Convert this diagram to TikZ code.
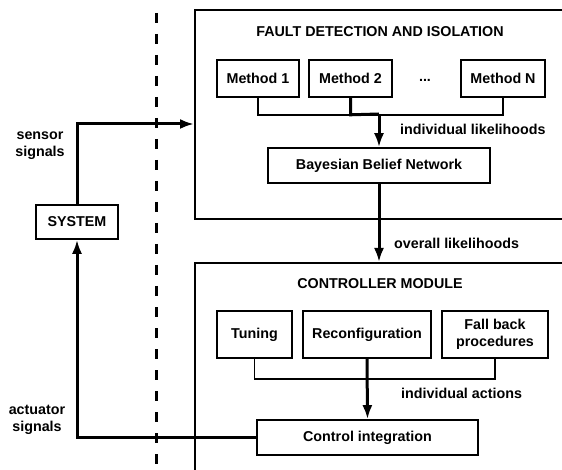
\documentclass[tikz,border=0pt]{standalone}
\usepackage{fontspec}
\setmainfont{Liberation Sans}
\usetikzlibrary{arrows.meta}
\begin{document}
\begin{tikzpicture}[x=1pt,y=-1pt,>={Latex[length=14pt,width=10pt]},
	box/.style={draw,line width=1.6pt,inner sep=0pt,align=center,font=\fontsize{14.3}{17}\selectfont\bfseries},
	frame/.style={draw,line width=1.6pt,inner sep=0pt,anchor=north west},
	lbl/.style={inner sep=0pt,align=center,font=\fontsize{14.3}{17}\selectfont\bfseries},
	flow/.style={line width=3pt},
	link/.style={line width=1.6pt}]
	\clip (0,0) rectangle (562,470);
	\draw[line width=3pt,dash pattern=on 10pt off 11pt] (156,13) -- (156,480);
	% fault detection part
	\node[frame,minimum width=420,minimum height=209] (fdi) at (194,9) {};
	\node[lbl] (fdit) at (380,32) {FAULT DETECTION AND ISOLATION};
	\node[box,minimum width=82,minimum height=37] (m1) at (258,78.5) {Method 1};
	\node[box,minimum width=83,minimum height=37] (m2) at (350.5,78.5) {Method 2};
	\node[lbl] (dots) at (425,80) {...};
	\node[box,minimum width=84,minimum height=37] (mN) at (503,78.5) {Method N};
	\node[box,minimum width=222,minimum height=35] (bbn) at (379,165.5) {Bayesian Belief Network};
	\draw[link] (m1.south) -- ++(0,17) -| (mN.south);
	\draw[flow] (m2.south) -- ++(0,17) -- (bbn.north |- 0,114);
	\draw[flow,->] (bbn.north |- 0,114) -- (bbn.north);
	\node[lbl,anchor=west] (indl) at (400,129) {individual likelihoods};
	% controller part
	\node[frame,minimum width=420,minimum height=230] (ctl) at (194,262) {};
	\node[lbl] (ctlt) at (380,284) {CONTROLLER MODULE};
	\node[box,minimum width=75,minimum height=47] (tun) at (254.5,334.5) {Tuning};
	\node[box,minimum width=128,minimum height=47] (rec) at (367,334.5) {Reconfiguration};
	\node[box,minimum width=106,minimum height=47] (fb) at (495,334.5) {Fall back\\procedures};
	\node[box,minimum width=221,minimum height=35] (ci) at (367.5,437.5) {Control integration};
	\draw[link] (tun.south) -- ++(0,20) -| (fb.south);
	\draw[flow,->] (rec.south) -- (ci.north);
	\node[lbl,anchor=west] (inda) at (401,393) {individual actions};
	\draw[flow,->] (bbn.south) -- (bbn.south |- ctl.north);
	\node[lbl,anchor=west] (ovl) at (394,243) {overall likelihoods};
	% plant and signals
	\node[box,minimum width=82,minimum height=34] (sys) at (77,222) {SYSTEM};
	\draw[flow,->] (sys.north) |- (fdi.west |- 0,124);
	\draw[flow,->] (ci.west) -| (sys.south);
	\node[lbl] (sens) at (40,146) {sensor\\signals};
	\node[lbl] (act) at (37,420) {actuator\\signals};
\end{tikzpicture}
\end{document}
